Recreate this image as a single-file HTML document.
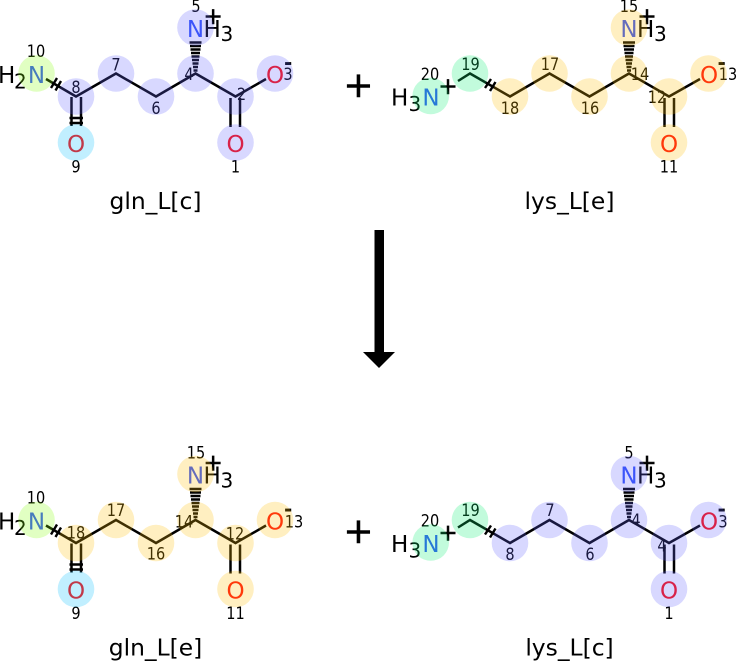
<!DOCTYPE html>
<html><head><meta charset="utf-8"><style>
html,body{margin:0;padding:0;background:#fff;width:737px;height:661px;overflow:hidden}
svg{display:block}
text{font-family:"DejaVu Sans","Liberation Sans",sans-serif}
.n{font-size:16.5px;fill:#000;text-anchor:middle;transform-box:fill-box;transform-origin:center;transform:scaleX(.88)}
.a{font-size:23px;text-anchor:middle}
.h{font-size:23px;fill:#000}
.p{font-size:23px;fill:#000;stroke:#000;stroke-width:.6}
.m{font-size:20px;font-weight:bold;fill:#000}
.s{font-size:20px;fill:#000}
.t{font-size:23.4px;fill:#000;text-anchor:middle}
.b{stroke:#000;stroke-width:2.4;fill:none}
.k{stroke:#000;stroke-width:2.5;fill:none}
.B{fill:#6464ff;fill-opacity:.25}.Y{fill:#ffc107;fill-opacity:.25}.G{fill:#87ff0a;fill-opacity:.25}.C{fill:#08c0ff;fill-opacity:.25}.M{fill:#0af073;fill-opacity:.25}
</style></head><body>
<svg width="737" height="661" viewBox="0 0 737 661" xmlns="http://www.w3.org/2000/svg">
<!-- TOP LEFT -->
<g>
<path class="k" d="M46 79L76 96.500L116 73.500L156 96.500L195.500 73.500L235.500 96.500L266 79"/>
<path class="k" d="M71.500 97V126M81 97V126M230.500 98V127M240 98V127"/>
<path class="b" d="M51 88L57 78M55.500 90.500L61 81M69.500 118H83M69.500 123H83"/>
<path class="b" d="M189.500 42.500H201.500M190 46H201M190.500 49.500H200.500M191 53H200M191.500 56.500H199.500M192 60H199M192.500 63.500H198.500M193 67H198M193.500 70.500H197.500"/>
<text class="a" x="195.500" y="37" fill="#3050f8">N</text><text class="h" x="203.500" y="37">H</text><text class="s" x="220.500" y="41">3</text><text class="p" x="203.500" y="24">+</text>
<text class="a" x="36.500" y="83" fill="#3050f8">N</text><text class="h" x="-2" y="83">H</text><text class="s" x="14" y="88.500">2</text>
<text class="a" x="76" y="152" fill="#ff0d0d">O</text><text class="a" x="235.500" y="152" fill="#ff0d0d">O</text><text class="a" x="275" y="83" fill="#ff0d0d">O</text><text class="m" x="284" y="69.500">-</text>
<text class="n" x="36" y="57">10</text><text class="n" x="76" y="93">8</text><text class="n" x="116" y="70.500">7</text><text class="n" x="156" y="114">6</text><text class="n" x="189" y="80">4</text><text class="n" x="241.500" y="100">2</text><text class="n" x="288" y="80">3</text><text class="n" x="196" y="12">5</text><text class="n" x="76" y="172.500">9</text><text class="n" x="235.500" y="172.500">1</text>
<circle class="G" cx="36.500" cy="73.500" r="18.300"/><circle class="B" cx="76" cy="96.500" r="18.300"/><circle class="B" cx="116" cy="73.500" r="18.300"/><circle class="B" cx="156" cy="96.500" r="18.300"/><circle class="B" cx="195.500" cy="73.500" r="18.300"/><circle class="B" cx="235.500" cy="96.500" r="18.300"/><circle class="B" cx="275" cy="73.500" r="18.300"/><circle class="C" cx="76" cy="142.500" r="18.300"/><circle class="B" cx="235.500" cy="142.500" r="18.300"/><circle class="B" cx="195.500" cy="27.500" r="18.300"/>
<text class="t" x="155.500" y="209">gln_L[c]</text>
</g>
<!-- TOP RIGHT -->
<text x="358.500" y="97" style="font-size:36px;fill:#000;text-anchor:middle;stroke:#000;stroke-width:.6">+</text>
<g>
<path class="k" d="M458 81L470 73.500L510 96.500L549.500 73.500L589.500 96.500L629 73.500L669 96.500L700 79"/>
<path class="k" d="M664.500 98V127M674 98V127"/>
<path class="b" d="M485 88L491 79M490 91L495.500 82"/>
<path class="b" d="M623 42.500H635M623.500 46H634.500M624 49.500H634M624.500 53H633.500M625 56.500H633M625.500 60H632.500M626 63.500H632M626.500 67H631.500M627 70.500H631"/>
<text class="a" x="629" y="37" fill="#3050f8">N</text><text class="h" x="637" y="37">H</text><text class="s" x="654" y="41">3</text><text class="p" x="637.400" y="24">+</text>
<text class="a" x="431" y="105.500" fill="#3050f8">N</text><text class="h" x="391" y="105.500">H</text><text class="s" x="408.500" y="111">3</text><text class="p" x="438.400" y="94">+</text>
<text class="a" x="709" y="83" fill="#ff0d0d">O</text><text class="a" x="669" y="152" fill="#ff0d0d">O</text><text class="m" x="717.500" y="69.500">-</text>
<text class="n" x="430" y="80">20</text><text class="n" x="470.500" y="70">19</text><text class="n" x="510" y="114">18</text><text class="n" x="550" y="70">17</text><text class="n" x="590" y="114">16</text><text class="n" x="640" y="80">14</text><text class="n" x="657" y="103">12</text><text class="n" x="728" y="80">13</text><text class="n" x="629" y="12">15</text><text class="n" x="669" y="172.500">11</text>
<circle class="M" cx="430.700" cy="96" r="18.300"/><circle class="M" cx="470" cy="73.500" r="18.300"/><circle class="Y" cx="510" cy="96.500" r="18.300"/><circle class="Y" cx="549.500" cy="73.500" r="18.300"/><circle class="Y" cx="589.500" cy="96.500" r="18.300"/><circle class="Y" cx="629" cy="73.500" r="18.300"/><circle class="Y" cx="669" cy="96.500" r="18.300"/><circle class="Y" cx="708.500" cy="73.500" r="18.300"/><circle class="Y" cx="669" cy="142.500" r="18.300"/><circle class="Y" cx="629" cy="27.500" r="18.300"/>
<text class="t" x="569.500" y="209">lys_L[e]</text>
</g>
<!-- ARROW -->
<rect x="374.500" y="230" width="9.500" height="122"/>
<polygon points="363,352 395,352 379,368"/>
<!-- BOTTOM LEFT -->
<g transform="translate(0,446.500)">
<path class="k" d="M46 79L76 96.500L116 73.500L156 96.500L195.500 73.500L235.500 96.500L266 79"/>
<path class="k" d="M71.500 97V126M81 97V126M230.500 98V127M240 98V127"/>
<path class="b" d="M51 88L57 78M55.500 90.500L61 81M69.500 118H83M69.500 123H83"/>
<path class="b" d="M189.500 42.500H201.500M190 46H201M190.500 49.500H200.500M191 53H200M191.500 56.500H199.500M192 60H199M192.500 63.500H198.500M193 67H198M193.500 70.500H197.500"/>
<text class="a" x="195.500" y="37" fill="#3050f8">N</text><text class="h" x="203.500" y="37">H</text><text class="s" x="220.500" y="41">3</text><text class="p" x="203.500" y="24">+</text>
<text class="a" x="36.500" y="83" fill="#3050f8">N</text><text class="h" x="-2" y="83">H</text><text class="s" x="14" y="88.500">2</text>
<text class="a" x="76" y="152" fill="#ff0d0d">O</text><text class="a" x="235.500" y="152" fill="#ff0d0d">O</text><text class="a" x="275" y="83" fill="#ff0d0d">O</text><text class="m" x="284" y="69.500">-</text>
<text class="n" x="36" y="57">10</text><text class="n" x="76" y="92">18</text><text class="n" x="116" y="69.500">17</text><text class="n" x="156" y="113">16</text><text class="n" x="184" y="81">14</text><text class="n" x="235" y="93">12</text><text class="n" x="294" y="81">13</text><text class="n" x="196" y="12">15</text><text class="n" x="76" y="172.500">9</text><text class="n" x="235.500" y="172.500">11</text>
<circle class="G" cx="36.500" cy="73.500" r="18.300"/><circle class="Y" cx="76" cy="96.500" r="18.300"/><circle class="Y" cx="116" cy="73.500" r="18.300"/><circle class="Y" cx="156" cy="96.500" r="18.300"/><circle class="Y" cx="195.500" cy="73.500" r="18.300"/><circle class="Y" cx="235.500" cy="96.500" r="18.300"/><circle class="Y" cx="275" cy="73.500" r="18.300"/><circle class="C" cx="76" cy="142.500" r="18.300"/><circle class="Y" cx="235.500" cy="142.500" r="18.300"/><circle class="Y" cx="195.500" cy="27.500" r="18.300"/>
<text class="t" x="155.500" y="209">gln_L[e]</text>
</g>
<!-- BOTTOM RIGHT -->
<text x="358.500" y="543" style="font-size:36px;fill:#000;text-anchor:middle;stroke:#000;stroke-width:.6">+</text>
<g transform="translate(0,446.500)">
<path class="k" d="M458 81L470 73.500L510 96.500L549.500 73.500L589.500 96.500L629 73.500L669 96.500L700 79"/>
<path class="k" d="M664.500 98V127M674 98V127"/>
<path class="b" d="M485 88L491 79M490 91L495.500 82"/>
<path class="b" d="M623 42.500H635M623.500 46H634.500M624 49.500H634M624.500 53H633.500M625 56.500H633M625.500 60H632.500M626 63.500H632M626.500 67H631.500M627 70.500H631"/>
<text class="a" x="629" y="37" fill="#3050f8">N</text><text class="h" x="637" y="37">H</text><text class="s" x="654" y="41">3</text><text class="p" x="637.400" y="24">+</text>
<text class="a" x="431" y="105.500" fill="#3050f8">N</text><text class="h" x="391" y="105.500">H</text><text class="s" x="408.500" y="111">3</text><text class="p" x="438.400" y="94">+</text>
<text class="a" x="709" y="83" fill="#ff0d0d">O</text><text class="a" x="669" y="152" fill="#ff0d0d">O</text><text class="m" x="717.500" y="69.500">-</text>
<text class="n" x="430" y="80">20</text><text class="n" x="470.500" y="69.500">19</text><text class="n" x="510" y="113.500">8</text><text class="n" x="550" y="69.500">7</text><text class="n" x="590" y="113.500">6</text><text class="n" x="636" y="79.500">4</text><text class="n" x="662" y="105">4</text><text class="n" x="723" y="81">3</text><text class="n" x="629" y="12">5</text><text class="n" x="669" y="172.500">1</text>
<circle class="M" cx="430.700" cy="96" r="18.300"/><circle class="M" cx="470" cy="73.500" r="18.300"/><circle class="B" cx="510" cy="96.500" r="18.300"/><circle class="B" cx="549.500" cy="73.500" r="18.300"/><circle class="B" cx="589.500" cy="96.500" r="18.300"/><circle class="B" cx="629" cy="73.500" r="18.300"/><circle class="B" cx="669" cy="96.500" r="18.300"/><circle class="B" cx="708.500" cy="73.500" r="18.300"/><circle class="B" cx="669" cy="142.500" r="18.300"/><circle class="B" cx="629" cy="27.500" r="18.300"/>
<text class="t" x="569.500" y="209">lys_L[c]</text>
</g>
</svg>
</body></html>
